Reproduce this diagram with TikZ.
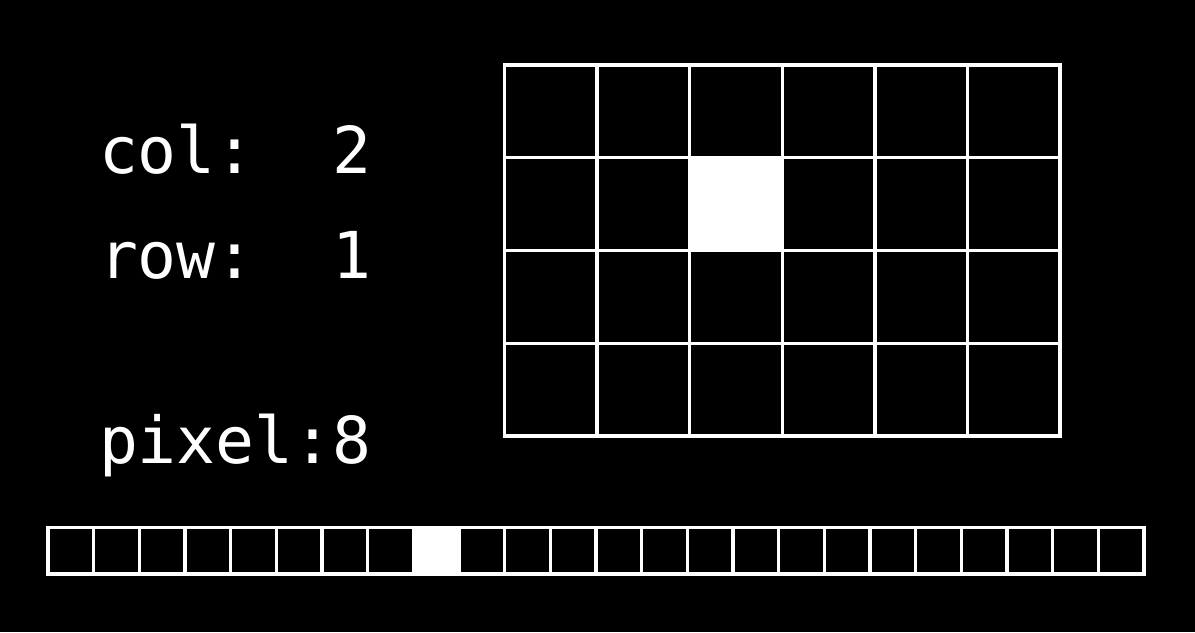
\documentclass[tikz,border=0pt]{standalone}
\usepackage{fontspec}
\setmonofont{DejaVu Sans Mono}

\begin{document}
\begin{tikzpicture}[
    x=0.025cm, y=-0.025cm,
    every node/.style={inner sep=0pt, outer sep=0pt},
    cell/.style={draw=white, line width=2.4pt, minimum width=2.315cm, minimum height=2.319cm},
    slot/.style={draw=white, line width=2.4pt, minimum width=1.1415cm, minimum height=1.1625cm},
    lit/.style={fill=white},
    readout/.style={text=white, anchor=base west, font=\ttfamily\fontsize{46}{46}\selectfont}
]
% background
\fill[black] (0,0) rectangle (1195,632);
\useasboundingbox (0,0) rectangle (1195,632);

% the 6x4 image
\foreach \r in {0,...,3}
  \foreach \c in {0,...,5}
    \node[cell] (g-\r-\c) at ({504.5+92.6*(\c+0.5)}, {65+92.75*(\r+0.5)}) {};
\node[cell, lit] (g-1-2) at ({504.5+92.6*2.5}, {65+92.75*1.5}) {};

% the same image as one row of pixels
\foreach \i in {0,...,23}
  \node[slot] (p-\i) at ({48+45.66*(\i+0.5)}, 550.75) {};
\node[slot, lit] (p-8) at ({48+45.66*8.5}, 550.75) {};

% readouts
\node[readout] (col) at (99,173) {col:\ \ 2};
\node[readout] (row) at (99,278) {row:\ \ 1};
\node[readout] (pix) at (99,463) {pixel:8};
\end{tikzpicture}
\end{document}
